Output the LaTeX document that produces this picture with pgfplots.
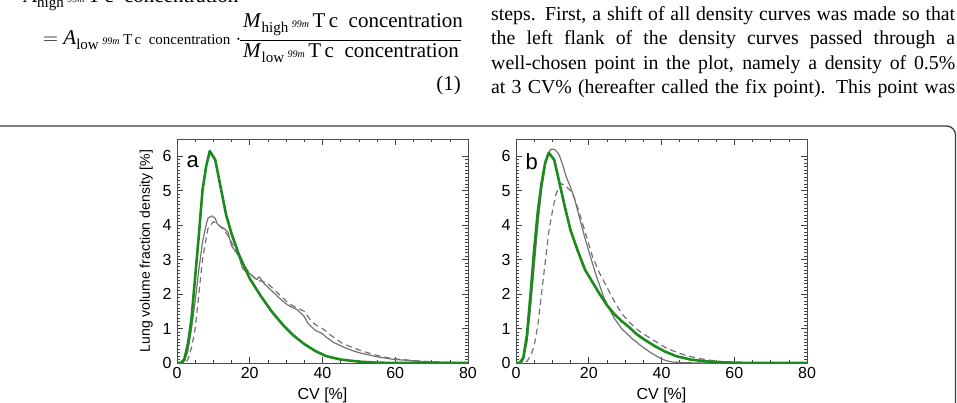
\documentclass[border=0pt]{standalone}
\usepackage{fontspec}
\setmainfont{Liberation Serif}
\newfontfamily\axisfont{Liberation Sans}
\usepackage{pgfplots}
\pgfplotsset{compat=1.18}

\definecolor{curvegreen}{RGB}{28,138,28}
\definecolor{curvegray}{RGB}{115,115,115}
\definecolor{framegray}{RGB}{60,60,60}

\newcommand\sub[1]{\raisebox{-0.45ex}{\fontsize{15}{15}\selectfont #1}}
\newcommand\iso{\raisebox{0.05ex}{\fontsize{10}{10}\selectfont\itshape 99m}}
\newcommand\tc{\,\iso\,T\,c\ \ concentration}
\newcommand\smalltc{\,\iso\,{\fontsize{15}{15}\selectfont T\,c\ \ concentration}}

\pgfplotsset{
  cvpanel/.style={
    scale only axis, width=291pt, height=224pt,
    xmin=0, xmax=80, ymin=0, ymax=6.5,
    xtick={0,20,...,80}, ytick={0,1,...,6},
    minor x tick num=3, minor y tick num=9,
    xtick pos=both, ytick pos=both,
    xticklabel pos=lower, yticklabel pos=left,
    tick align=inside,
    major tick length=6pt, minor tick length=3pt,
    every tick/.style={black!75, line width=0.6pt},
    axis line style={black!70, line width=0.8pt},
    /pgf/number format/assume math mode=true,
    tick label style={font=\fontsize{16}{16}\selectfont\axisfont},
    xticklabel style={yshift=-1pt},
    yticklabel style={xshift=-2pt},
    label style={font=\fontsize{16}{16}\selectfont\axisfont},
    xlabel={CV [\%]},
    xlabel style={yshift=-2pt},
    clip=true,
  },
  thickgreen/.style={curvegreen, line width=2.6pt, line join=round},
  thingray/.style={curvegray, line width=1.2pt, line join=round},
  dashgray/.style={curvegray, line width=1.2pt, dash pattern=on 6pt off 4pt},
}

\begin{document}
\begin{tikzpicture}[x=1pt,y=1pt]
\useasboundingbox (0,0) rectangle (957,402);

% ---- equation (1), left column ----
\node[anchor=base west, inner sep=0, font=\fontsize{21}{21}\selectfont] at (24,399)
  {\textit{A}\sub{high}\tc};
\node[anchor=base west, inner sep=0, font=\fontsize{21}{21}\selectfont] at (43,357)
  {$=$\ \textit{A}\sub{low}\smalltc\ $\cdot$};
\node[anchor=base west, inner sep=0, font=\fontsize{21}{21}\selectfont] at (243,374)
  {\textit{M}\sub{high}\tc};
\node[anchor=base west, inner sep=0, font=\fontsize{21}{21}\selectfont] at (243,344)
  {\textit{M}\sub{low}\tc};
\draw[line width=0.9pt] (240,362) -- (461,362);
\node[anchor=base east, inner sep=0, font=\fontsize{21}{21}\selectfont] at (461,311) {(1)};

% ---- running text, right column ----
\begin{scope}[every node/.style={anchor=base west, inner sep=0, font=\fontsize{19.8}{24}\selectfont}]
  \node at (491,381.5) {\makebox[464pt][s]{steps. First, a shift of all density curves was made so that}};
  \node at (491,357)   {\makebox[464pt][s]{the left flank of the density curves passed through a}};
  \node at (491,332.5) {\makebox[464pt][s]{well-chosen point in the plot, namely a density of 0.5\%}};
  \node at (491,308)   {\makebox[464pt][s]{at 3 CV\% (hereafter called the fix point). This point was}};
\end{scope}

% ---- figure frame ----
\draw[framegray, line width=1.3pt, rounded corners=9pt] (-20,-20) -- (-20,276) -- (955.5,276) -- (955.5,-20);

% ---- panel a ----
\begin{axis}[cvpanel, at={(177pt,39pt)}, anchor=south west,
  ylabel={Lung volume fraction density [\%]},
  ylabel style={font=\fontsize{14}{14}\selectfont\axisfont, yshift=3pt}]
\addplot[dashgray] coordinates {
 (0,0) (2,0) (3,0.1) (4,0.45) (5,1.0) (6,2.0) (7,3.0) (8,3.6) (8.5,3.9) (10,4.1)
 (11,4.05) (12,3.95) (13,3.85) (14,3.7) (15,3.5) (16,3.3) (17,3.1) (18,2.9)
 (19,2.75) (20,2.6) (21,2.5) (22,2.4) (23,2.38) (24,2.35) (25,2.3) (26,2.2)
 (27,2.1) (28,2.0) (29,1.9) (30,1.8) (31,1.72) (32,1.65) (33,1.6) (34,1.55)
 (35,1.5) (36,1.35) (37,1.2) (38,1.12) (39,1.05) (40,1.0) (41,0.92) (42,0.83)
 (43,0.75) (44,0.68) (45,0.6) (46,0.55) (48,0.46) (50,0.38) (52,0.31)
 (55,0.22) (58,0.15) (60,0.12) (63,0.09) (65,0.07) (68,0.05) (70,0.04)
 (75,0.02) (80,0)};
\addplot[thingray] coordinates {
 (0,0) (1.5,0) (2,0.05) (3,0.35) (4,1.0) (5,1.8) (6,2.7) (7,3.5) (8,4.0)
 (8.5,4.2) (9.5,4.27) (10.5,4.2) (11,4.05) (12,3.95) (13,3.9) (13.5,3.85)
 (14,3.8) (14.5,3.6) (15,3.4) (16,3.25) (17,3.1) (18,2.75) (19,2.65) (20,2.6)
 (21,2.5) (22,2.42) (22.5,2.5) (23,2.45) (24,2.3) (25,2.2) (26,2.1) (27,2.0)
 (28,1.9) (29,1.8) (30,1.72) (31,1.65) (32,1.6) (33,1.55) (34,1.45) (35,1.35)
 (36,1.15) (37,1.05) (38,0.95) (39,0.9) (40,0.85) (41,0.75) (42,0.68) (43,0.6)
 (44,0.55) (46,0.45) (48,0.37) (50,0.3) (52,0.25) (55,0.18) (58,0.13)
 (60,0.1) (63,0.08) (65,0.06) (68,0.04) (70,0.03) (75,0.01) (80,0)};
\addplot[thickgreen] coordinates {
 (0,0) (1,0) (2,0.1) (3,0.55) (4,1.3) (5,2.5) (6,3.7) (7,5.0) (8,5.7)
 (9,6.15) (10.5,5.9) (12,5.1) (13.5,4.3) (15,3.75) (17,3.15) (20,2.45)
 (23,1.95) (26,1.5) (29,1.12) (32,0.8) (35,0.55) (38,0.35) (41,0.2)
 (45,0.1) (50,0.04) (55,0.01) (60,0) (80,0)};
\node[anchor=west, inner sep=0, font=\fontsize{22}{22}\selectfont\axisfont]
  at (axis cs:2.6,5.85) {a};
\end{axis}

% ---- panel b ----
\begin{axis}[cvpanel, at={(516pt,39pt)}, anchor=south west]
\addplot[dashgray] coordinates {
 (0,0) (2,0) (3,0.05) (4,0.2) (5,0.5) (6,1.1) (7,2.0) (8,2.9) (9,3.8)
 (10,4.4) (11,4.9) (12,5.15) (12.5,5.2) (13.5,5.15) (15,5.0) (16,4.8)
 (17,4.5) (18,4.15) (19,3.8) (20,3.45) (21,3.1) (22,2.85) (23,2.6) (24,2.4)
 (25,2.2) (26,2.0) (27,1.8) (28,1.62) (29,1.45) (30,1.32) (31,1.2) (32,1.1)
 (33,1.0) (34,0.92) (35,0.85) (36,0.78) (38,0.65) (40,0.52) (41,0.45)
 (43,0.36) (45,0.28) (47,0.21) (50,0.14) (52,0.1) (55,0.06) (58,0.03)
 (60,0.02) (65,0.005) (70,0) (80,0)};
\addplot[thingray] coordinates {
 (0,0) (1.5,0) (2,0.1) (3,0.6) (4,1.6) (5,2.8) (6,4.0) (7,5.0) (8,5.7)
 (8.5,6.0) (9.5,6.2) (10.5,6.2) (11.5,6.1) (12,6.0) (13,5.7) (13.5,5.5)
 (14,5.35) (15,5.1) (16,4.8) (17,4.4) (18,4.0) (19,3.6) (20,3.25) (21,2.9)
 (22,2.55) (23,2.25) (24,1.95) (25,1.7) (26,1.5) (27,1.3) (28,1.15) (29,1.0)
 (30,0.9) (31,0.8) (32,0.7) (33,0.62) (34,0.53) (35,0.45) (36,0.38) (37,0.3)
 (38,0.24) (39,0.18) (40,0.12) (41,0.08) (42,0.05) (43,0.03) (46,0.01)
 (50,0) (80,0)};
\addplot[thickgreen] coordinates {
 (0,0) (1,0) (2,0.15) (3,0.8) (4,2.0) (5,3.3) (6,4.4) (7,5.2) (8,5.8)
 (9,6.1) (10.5,5.9) (12,5.2) (13.5,4.5) (15,3.85) (17,3.25) (19,2.7)
 (21,2.35) (23,2.0) (25,1.68) (27,1.42) (29,1.22) (31,1.05) (33,0.85)
 (35,0.7) (38,0.5) (41,0.33) (44,0.2) (48,0.1) (52,0.05) (56,0.02)
 (60,0.01) (65,0) (80,0)};
\node[anchor=west, inner sep=0, font=\fontsize{22}{22}\selectfont\axisfont]
  at (axis cs:2.6,5.85) {b};
\end{axis}
\end{tikzpicture}
\end{document}
